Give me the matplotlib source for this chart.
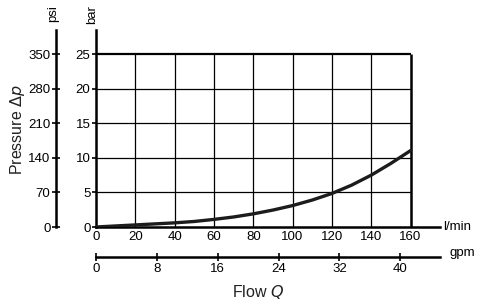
import matplotlib
matplotlib.use("Agg")
import matplotlib.pyplot as plt

plt.rcParams['font.family'] = ['Liberation Sans', 'DejaVu Sans']
plt.rcParams['mathtext.fontset'] = 'dejavusans'

# curve
flow_lpm = [0, 10, 20, 30, 40, 50, 60, 70, 80, 90, 100, 110, 120, 130, 140, 150, 160]
dp_bar = [0, 0.15, 0.3, 0.45, 0.6, 0.8, 1.1, 1.45, 1.9, 2.45, 3.1, 3.9, 4.85, 6.05, 7.5, 9.2, 11.05]

bar_ticks = [0, 5, 10, 15, 20, 25]
psi_labels = ['0', '70', '140', '210', '280', '350']
lpm_ticks = [0, 20, 40, 60, 80, 100, 120, 140, 160]
gpm_ticks = [0, 8, 16, 24, 32, 40]
lpm_per_gpm = 3.87

W, H = 482, 307
fig = plt.figure(figsize=(W / 100, H / 100), dpi=100)

def frac(x0, y0, x1, y1):
	# pixel box -> figure fraction
	return [x0 / W, 1 - y1 / H, (x1 - x0) / W, (y1 - y0) / H]

xmax = 175
ymax = 28.5
ax = fig.add_axes(frac(96, 30, 440, 227))
ax.set_xlim(0, xmax)
ax.set_ylim(0, ymax)
for s in ['top', 'right']:
	ax.spines[s].set_visible(False)
for s in ['left', 'bottom']:
	ax.spines[s].set_linewidth(1.8)
	ax.spines[s].set_color('black')

# grid inside the 0..160 x 0..25 box
ax.vlines(lpm_ticks[1:-1], 0, 25, color='black', lw=0.9)
ax.hlines(bar_ticks[1:-1], 0, 160, color='black', lw=0.9)
ax.hlines(25, 0, 160, color='black', lw=1.6)
ax.vlines(160, 0, 25, color='black', lw=1.8)

ax.plot(flow_lpm, dp_bar, color='#1c1c1c', lw=2.4, solid_capstyle='round',
	solid_joinstyle='round', zorder=5)

ax.set_yticks(bar_ticks)
ax.set_yticklabels([str(v) for v in bar_ticks])
ax.set_xticks(lpm_ticks)
ax.set_xticklabels([str(v) for v in lpm_ticks])
ax.tick_params(axis='y', direction='out', length=3, width=1.2, pad=1, labelsize=9.5)
ax.tick_params(axis='x', direction='out', length=0, pad=3, labelsize=9.5)

# psi axis on the far left
axp = fig.add_axes(frac(56, 30, 57, 227))
axp.set_ylim(0, ymax)
axp.set_xticks([])
for s in ['top', 'right', 'bottom']:
	axp.spines[s].set_visible(False)
axp.spines['left'].set_linewidth(1.8)
axp.patch.set_visible(False)
axp.set_yticks(bar_ticks)
axp.set_yticklabels(psi_labels)
axp.tick_params(axis='y', direction='inout', length=6, width=1.2, pad=1, labelsize=9.5)

# gpm axis below
axg = fig.add_axes(frac(96, 230, 440, 257))
axg.set_xlim(0, xmax / lpm_per_gpm)
axg.set_yticks([])
for s in ['top', 'right', 'left']:
	axg.spines[s].set_visible(False)
axg.spines['bottom'].set_linewidth(1.8)
axg.patch.set_visible(False)
axg.set_xticks(gpm_ticks)
axg.set_xticklabels([str(v) for v in gpm_ticks])
axg.tick_params(axis='x', direction='inout', length=6, width=1.2, pad=1, labelsize=9.5)

# unit and axis labels
fig.text(443 / W, 1 - 227 / H, 'l/min', fontsize=9.5, ha='left', va='center')
fig.text(450 / W, 1 - 253 / H, 'gpm', fontsize=9.5, ha='left', va='center')
fig.text(59 / W, 1 - 5 / H, 'psi', fontsize=9.5, rotation=90, ha='right', va='top')
fig.text(98 / W, 1 - 5 / H, 'bar', fontsize=9.5, rotation=90, ha='right', va='top')
fig.text(18 / W, 1 - 130 / H, r'Pressure $\Delta p$', fontsize=11.5, rotation=90,
	ha='center', va='center', color='#222222')
fig.text(258 / W, 1 - 292 / H, r'Flow $Q$', fontsize=11.5, ha='center', va='center',
	color='#222222')

fig.savefig('out.png', dpi=100)
